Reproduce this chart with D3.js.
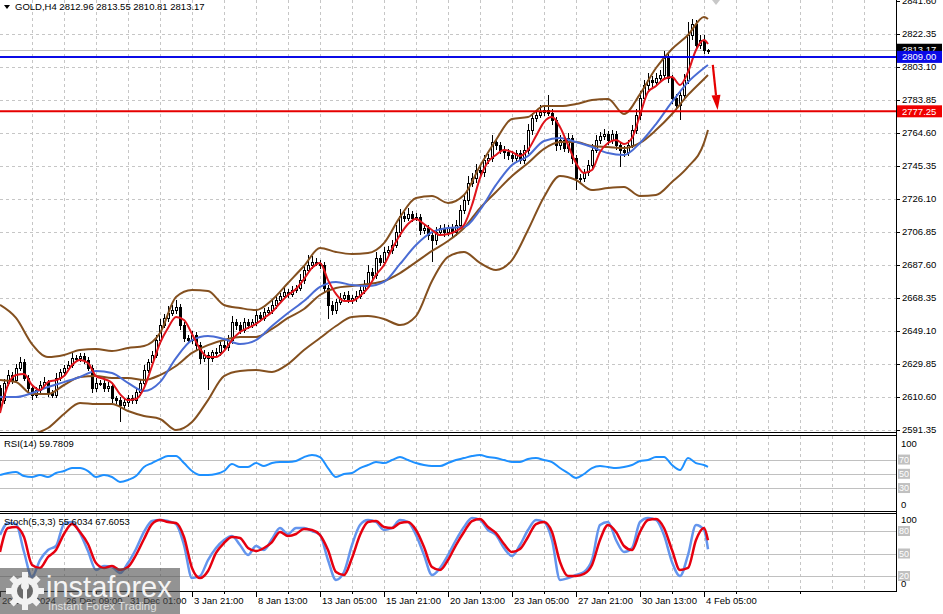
<!DOCTYPE html>
<html><head><meta charset="utf-8">
<script src="https://cdn.jsdelivr.net/npm/d3@7"></script>
<style>
body{margin:0;background:#fff;overflow:hidden}
svg{display:block}
text{font-family:"Liberation Sans",Arial,sans-serif}
</style>
</head><body>
<svg id="c" width="943" height="614"></svg>
<script>
// ---------------- DATA ----------------
const symbol = "GOLD,H4";
const opens = [
2616.0,2608.8,2618.8,2623.4,2620.5,2627.5,2631.0,2621.7,2615.8,2611.8,
2614.7,2617.6,2619.3,2612.9,2611.8,2621.7,2625.2,2627.5,2629.3,2633.3,
2633.3,2634.5,2632.2,2627.5,2615.8,2618.8,2618.8,2615.8,2617.0,2610.0,
2608.8,2605.9,2607.7,2610.0,2608.8,2613.5,2618.8,2626.3,2631.0,2635.1,
2643.8,2652.6,2656.7,2659.6,2661.3,2663.1,2652.6,2645.0,2643.8,2646.8,
2640.9,2633.3,2635.1,2633.3,2636.8,2636.8,2640.9,2639.8,2643.8,2654.3,
2652.6,2649.7,2654.3,2652.6,2654.3,2658.4,2656.7,2660.2,2661.3,2664.3,
2667.2,2669.5,2671.8,2670.7,2673.0,2674.2,2678.8,2684.7,2687.6,2689.3,
2688.8,2687.6,2674.2,2664.3,2661.3,2666.0,2668.3,2670.1,2667.2,2668.3,
2669.5,2673.0,2675.9,2683.5,2681.8,2691.7,2689.3,2695.2,2696.3,2699.3,
2706.8,2716.2,2715.0,2717.3,2715.0,2715.6,2708.0,2709.2,2705.1,2702.2,
2706.8,2709.2,2706.8,2709.2,2706.8,2710.9,2719.7,2725.5,2735.4,2738.3,
2743.0,2741.8,2748.8,2750.0,2759.3,2757.6,2754.7,2753.5,2751.8,2750.0,
2752.9,2748.8,2754.7,2766.3,2773.3,2775.1,2776.8,2778.0,2776.3,2772.2,
2757.6,2760.5,2755.8,2761.7,2750.0,2738.3,2738.3,2741.8,2745.9,2754.7,
2760.5,2762.8,2764.0,2760.5,2764.0,2757.6,2754.7,2753.5,2757.6,2766.3,
2775.1,2785.0,2792.6,2795.5,2794.3,2796.7,2798.4,2808.3,2796.7,2785.0,
2780.9,2786.8,2795.5,2821.8,2828.2,2815.9,2818.8,2812.96];
const closes = [
2608.8,2618.8,2623.4,2620.5,2627.5,2631.0,2621.7,2615.8,2611.8,2614.7,
2617.6,2619.3,2612.9,2611.8,2621.7,2625.2,2627.5,2629.3,2633.3,2633.3,
2634.5,2632.2,2627.5,2615.8,2618.8,2618.8,2615.8,2617.0,2610.0,2608.8,
2605.9,2607.7,2610.0,2608.8,2613.5,2618.8,2626.3,2631.0,2635.1,2643.8,
2652.6,2656.7,2659.6,2661.3,2663.1,2652.6,2645.0,2643.8,2646.8,2640.9,
2633.3,2635.1,2633.3,2636.8,2636.8,2640.9,2639.8,2643.8,2654.3,2652.6,
2649.7,2654.3,2652.6,2654.3,2658.4,2656.7,2660.2,2661.3,2664.3,2667.2,
2669.5,2671.8,2670.7,2673.0,2674.2,2678.8,2684.7,2687.6,2689.3,2688.8,
2687.6,2674.2,2664.3,2661.3,2666.0,2668.3,2670.1,2667.2,2668.3,2669.5,
2673.0,2675.9,2683.5,2681.8,2691.7,2689.3,2695.2,2696.3,2699.3,2706.8,
2716.2,2715.0,2717.3,2715.0,2715.6,2708.0,2709.2,2705.1,2702.2,2706.8,
2709.2,2706.8,2709.2,2706.8,2710.9,2719.7,2725.5,2735.4,2738.3,2743.0,
2741.8,2748.8,2750.0,2759.3,2757.6,2754.7,2753.5,2751.8,2750.0,2752.9,
2748.8,2754.7,2766.3,2773.3,2775.1,2776.8,2778.0,2776.3,2772.2,2757.6,
2760.5,2755.8,2761.7,2750.0,2738.3,2738.3,2741.8,2745.9,2754.7,2760.5,
2762.8,2764.0,2760.5,2764.0,2757.6,2754.7,2753.5,2757.6,2766.3,2775.1,
2785.0,2792.6,2795.5,2794.3,2796.7,2798.4,2808.3,2796.7,2785.0,2780.9,
2786.8,2795.5,2821.8,2828.2,2815.9,2818.8,2812.96,2813.17];
const upperWicks = [
1.5,2.5,3.0,2.0,2.5,3.0,1.5,2.0,1.5,2.0,
2.5,3.0,1.5,2.0,3.0,2.0,1.5,2.5,3.5,2.0,
2.0,1.5,1.5,2.0,3.0,2.0,1.5,2.5,1.5,1.0,
2.0,1.5,2.0,1.5,2.5,2.0,3.0,2.0,2.5,3.0,
3.5,2.5,4.0,3.0,4.0,2.0,1.5,2.0,2.5,1.5,
2.0,3.0,2.0,1.5,2.5,2.0,2.5,3.0,3.5,2.0,
1.5,2.5,2.0,2.0,3.0,2.0,2.5,2.0,3.0,2.5,
2.0,3.0,2.0,2.5,2.0,3.5,3.0,6.0,3.5,2.5,
2.0,1.5,2.0,2.5,2.0,3.0,2.0,2.5,2.0,3.0,
2.5,3.0,4.0,2.5,3.5,2.0,3.0,2.5,3.0,4.0,
4.0,2.5,3.5,2.0,2.5,2.0,2.5,2.0,1.5,3.0,
2.0,2.5,2.0,2.5,3.0,3.0,3.5,4.0,3.0,3.5,
2.5,3.0,2.5,4.0,2.0,2.0,2.5,2.0,2.5,2.0,
2.0,3.0,3.5,3.0,2.5,4.0,3.0,9.0,2.5,2.0,
3.0,2.5,3.0,2.0,1.5,2.5,2.0,3.0,3.5,3.0,
2.5,3.0,2.0,2.5,2.0,1.5,2.5,3.0,3.0,3.5,
4.0,3.0,4.0,2.5,3.0,3.0,4.0,2.5,2.0,2.5,
3.0,3.5,7.5,3.0,2.5,3.0,3.0,0.38];
const lowerWicks = [
7.0,2.0,1.5,2.5,2.0,1.5,2.0,2.5,3.0,2.0,
1.5,2.0,2.5,2.0,1.5,2.0,2.5,1.5,2.0,2.5,
2.0,2.5,2.0,3.0,2.5,1.5,2.0,2.0,3.0,2.5,
10.0,2.5,3.0,2.0,2.0,2.5,2.0,1.5,2.5,2.0,
2.5,2.0,2.5,2.0,2.5,3.0,2.5,2.0,2.5,3.0,
3.5,2.5,18.5,2.0,2.5,2.0,2.0,2.5,2.0,3.0,
2.5,2.0,2.5,2.0,2.0,2.5,2.0,1.5,2.0,2.5,
2.0,2.0,2.5,2.0,1.5,2.0,2.5,2.0,2.5,2.0,
2.5,3.0,8.0,3.0,2.5,2.0,2.5,2.0,2.5,2.0,
2.0,2.5,2.0,3.0,2.5,2.0,2.5,2.0,2.5,2.0,
3.0,2.5,2.0,2.5,2.0,3.0,2.5,3.0,13.0,3.0,
2.5,3.0,2.5,3.0,2.5,2.0,2.5,3.0,2.5,3.0,
2.5,3.0,2.5,2.5,3.0,2.5,4.0,3.0,2.5,3.0,
2.5,2.0,2.5,3.0,2.5,2.0,2.5,2.0,3.0,3.5,
3.0,2.5,3.0,3.5,7.0,3.0,2.5,2.0,2.5,2.0,
2.5,2.0,3.0,2.5,3.0,10.0,3.0,2.5,2.0,2.5,
3.0,2.5,3.0,3.5,2.5,3.0,2.5,3.0,3.5,3.0,
9.0,3.0,2.5,3.0,3.0,2.5,2.5,2.15];

// Bollinger bands and moving average, one value every 4 bars (+ last bar)
const bbUpper = [2664.3,2656.7,2641.5,2633.9,2635.1,2638.0,2638.6,2637.4,2639.2,2640.3,
2647.9,2668.9,2673.0,2672.4,2664.3,2662.5,2661.3,2667.2,2677.1,2687.0,
2697.5,2695.2,2694.0,2694.6,2700.4,2715.6,2726.7,2727.8,2723.8,2728.4,
2745.3,2760.5,2772.8,2773.9,2780.3,2780.3,2781.5,2783.8,2784.4,2775.7,
2787.3,2802.5,2813.6,2821.8,2832.3,2831.1];
const bbMiddle = [2620.5,2619.3,2612.3,2612.3,2617.6,2622.3,2622.8,2621.7,2621.7,2620.5,
2623.4,2628.7,2636.3,2640.9,2643.8,2645.6,2645.6,2650.3,2656.7,2661.9,
2670.1,2674.2,2675.3,2676.5,2678.3,2682.9,2689.3,2695.8,2701.6,2709.2,
2720.8,2730.2,2739.5,2747.1,2755.3,2759.3,2759.3,2757.0,2756.4,2755.8,
2758.8,2766.3,2775.7,2786.8,2796.1,2798.4];
const bbLower = [2579.7,2583.2,2588.4,2592.5,2600.7,2607.1,2606.5,2606.5,2602.4,2599.5,
2597.8,2591.3,2596.0,2608.8,2622.8,2625.8,2626.3,2625.2,2629.8,2638.0,
2645.0,2652.0,2657.3,2657.8,2656.1,2652.6,2657.8,2678.3,2692.3,2695.2,
2688.8,2684.7,2690.5,2708.0,2727.3,2739.5,2737.2,2731.3,2732.5,2733.1,
2727.8,2728.4,2736.0,2744.8,2758.8,2766.3];
const slowMA = [2610.6,2610.6,2612.9,2616.4,2619.3,2622.3,2625.8,2624.6,2618.8,2614.1,
2619.3,2633.3,2643.8,2646.2,2644.4,2641.5,2643.8,2652.0,2659.6,2666.6,
2674.8,2677.7,2675.9,2675.3,2677.7,2688.2,2699.3,2706.8,2709.2,2709.8,
2719.7,2734.3,2745.9,2751.2,2759.9,2761.7,2759.3,2756.4,2752.9,2751.8,
2758.8,2769.8,2782.7,2794.3,2802.5,2804.3];
// fast MA, RSI and Stochastic: one value every 2 bars (+ last bar)
const fastMA = [2601.3,2617.6,2623.4,2624.0,2617.6,2614.7,2619.3,2620.5,2622.8,2629.3,
2632.2,2630.4,2622.8,2621.1,2618.8,2612.3,2608.8,2609.4,2615.8,2628.7,
2642.1,2650.9,2657.3,2655.5,2647.4,2638.6,2633.9,2633.9,2637.4,2643.8,
2648.5,2650.9,2653.2,2656.7,2660.2,2665.4,2670.1,2673.6,2679.4,2685.9,
2688.8,2678.8,2670.7,2666.6,2666.6,2669.5,2674.2,2681.8,2687.6,2696.9,
2705.1,2711.5,2714.4,2711.5,2708.0,2705.1,2705.7,2707.4,2710.9,2722.6,
2738.3,2747.7,2751.8,2754.7,2753.5,2751.2,2754.7,2762.8,2771.0,2773.9,
2768.1,2757.6,2747.1,2741.3,2743.0,2753.5,2758.8,2760.5,2758.2,2761.7,
2775.1,2788.5,2792.0,2796.1,2797.3,2792.6,2800.2,2813.0,2818.8,2816.5];
const rsi = [48.3,51.1,52.5,46.9,45.5,48.3,45.5,51.1,53.9,58.1,
58.1,53.9,45.5,48.3,45.5,38.5,41.3,46.9,59.5,65.1,
70.7,74.9,74.9,65.1,53.9,48.3,48.3,49.7,53.9,63.7,
59.5,59.5,65.1,60.9,65.1,66.5,66.5,67.9,73.5,76.4,
73.5,58.1,45.5,49.7,51.1,58.1,62.3,66.5,65.1,69.3,
73.5,69.3,65.1,62.3,60.9,60.9,65.1,69.3,72.1,74.9,
76.4,73.5,72.1,69.3,66.5,66.5,70.7,72.1,69.3,66.5,
58.1,51.1,44.1,49.7,58.1,60.9,59.5,58.1,59.5,62.3,
67.9,69.3,73.5,73.5,62.3,55.3,72.1,65.1,62.3,59.7809];
const stochMain = [74.7,90.7,89.3,52,18.7,41.3,54.7,60,89.3,92,
77.3,53.3,28,33.3,32,24,37.3,56,78.7,93.3,
94.7,93.3,89.3,61.3,17.3,20,41.3,57.3,68,73.3,
61.3,48,60,54.7,69.3,84,76,84,84,80,
74.7,41.3,14.7,25.3,61.3,88,94.7,92,81.3,84,
94.7,92,74.7,48,21.3,30.7,48,68,85.3,97.3,
94.7,81.3,74.7,57.3,46.7,61.3,81.3,94.7,92,68,
14.7,17.3,21.3,25.3,41.3,88,92,68,52,57.3,
92,97.3,94.7,74.7,38.7,20,48,88,81.3,55.6034];
const stochSignal = [52,84,85.3,72,34.7,30.7,45.3,54.7,76,89.3,
78.7,62.7,37.3,30.7,33.3,28,32,48,69.3,89.3,
94.7,92,90.7,72,30.7,17.3,26.7,50.7,64,72,
70.7,57.3,53.3,57.3,65.3,78.7,73.3,76,82.7,81.3,
74.7,54.7,25.3,21.3,44,74.7,92,93.3,85.3,84,
90.7,92,81.3,58.7,32,28,41.3,61.3,78.7,93.3,
96,85.3,77.3,62.7,52,56,72,89.3,92,78.7,
38.7,20,20,22.7,34.7,68,88,78.7,60,54.7,
78.7,94.7,96,84,54.7,28,30.7,68,84,67.6053];

const priceTicks = [2841.60,2822.35,2803.10,2783.85,2764.60,2745.35,2726.10,2706.85,2687.60,2668.35,2649.10,2629.85,2610.60,2591.35];
const timeLabels = ["20 Dec 2024","26 Dec 09:00","31 Dec 01:00","3 Jan 21:00","8 Jan 13:00","13 Jan 05:00","15 Jan 21:00","20 Jan 13:00","23 Jan 05:00","27 Jan 21:00","30 Jan 13:00","4 Feb 05:00"];
const timeLabelBars = [0,16,32,48,64,80,96,112,128,144,160,176];
const levelBlue = 2809.00;
const levelRed = 2777.25;
const rsiLevels = [70,50,30];
const stochLevels = [80,50,20];
const arrowFrom = {bar:178.2, price:2804.3};
const arrowTo = {bar:179.4, price:2778.0};

// ---------------- DRAW ----------------
const svg = d3.select("#c");
const nBars = closes.length;
const AX = 896;
const x = d3.scaleLinear().domain([0, nBars-1]).range([0, 708]);
const y = d3.scaleLinear().domain([2591.35, 2841.60]).range([430, 1]);
const yR = d3.scaleLinear().domain([0,100]).range([509.4, 438.2]);
const yS = d3.scaleLinear().domain([0,100]).range([591, 516]);

const bars = d3.range(nBars).map(i => {
  const o = opens[i], c = closes[i];
  return {i, o, c, h: Math.max(o,c)+upperWicks[i], l: Math.min(o,c)-lowerWicks[i]};
});
const idx4 = d3.range(0, nBars-1, 4).concat([nBars-1]);
const idx2 = d3.range(0, nBars-1, 2).concat([nBars-1]);

const defs = svg.append("defs");
function clip(id, y0, y1){
  defs.append("clipPath").attr("id", id).append("rect").attr("x",0).attr("y",y0).attr("width",AX).attr("height",y1-y0);
}
clip("cm", 0, 432); clip("cr", 436, 511); clip("cs", 514, 591);

const grid = svg.append("g").attr("stroke","#c6c6c6").attr("stroke-dasharray","3,3").attr("shape-rendering","crispEdges");
const vIdx = d3.range(8, nBars+40, 8).filter(d => x(d) < AX);
[[0,432],[436,511],[514,591]].forEach(([a,b])=>{
  grid.selectAll(null).data(vIdx).enter().append("line")
    .attr("x1", d=>Math.round(x(d))+0.5).attr("x2", d=>Math.round(x(d))+0.5)
    .attr("y1", a).attr("y2", b);
});
grid.selectAll(null).data(priceTicks.slice(1)).enter().append("line")
  .attr("x1",0).attr("x2",AX).attr("y1",d=>Math.round(y(d))+0.5).attr("y2",d=>Math.round(y(d))+0.5);

// level lines
const lv = svg.append("g").attr("stroke","#c0c0c0").attr("shape-rendering","crispEdges");
lv.selectAll(null).data(rsiLevels).enter().append("line").attr("x1",0).attr("x2",AX)
  .attr("y1",d=>Math.round(yR(d))+0.5).attr("y2",d=>Math.round(yR(d))+0.5);
lv.selectAll(null).data(stochLevels).enter().append("line").attr("x1",0).attr("x2",AX)
  .attr("y1",d=>Math.round(yS(d))+0.5).attr("y2",d=>Math.round(yS(d))+0.5);

// bid line
svg.append("line").attr("x1",0).attr("x2",AX).attr("y1",Math.round(y(closes[nBars-1]))+0.5).attr("y2",Math.round(y(closes[nBars-1]))+0.5)
  .attr("stroke","#c0c0c0").attr("shape-rendering","crispEdges");

// candles
const cg = svg.append("g").attr("clip-path","url(#cm)").attr("shape-rendering","crispEdges");
cg.selectAll(".w").data(bars).enter().append("line")
  .attr("x1", d=>Math.round(x(d.i))+0.5).attr("x2", d=>Math.round(x(d.i))+0.5)
  .attr("y1", d=>y(d.h)).attr("y2", d=>y(d.l)).attr("stroke","#000");
cg.selectAll(".b").data(bars).enter().append("rect")
  .attr("x", d=>Math.round(x(d.i))-0.5).attr("width",2)
  .attr("y", d=>Math.round(y(Math.max(d.o,d.c)))+0.5)
  .attr("height", d=>Math.max(1, Math.round(y(Math.min(d.o,d.c)) - y(Math.max(d.o,d.c)))))
  .attr("fill", d=> d.c>=d.o ? "#fff" : "#000").attr("stroke","#000");

// indicator lines on main chart
const lg = svg.append("g").attr("clip-path","url(#cm)").attr("fill","none").attr("stroke-linejoin","round");
function drawLine(g, vals, idx, ys, color, w){
  g.append("path").datum(vals.map((v,k)=>[idx[k], v]))
   .attr("d", d3.line().x(d=>x(d[0])).y(d=>ys(d[1])).curve(d3.curveMonotoneX))
   .attr("stroke", color).attr("stroke-width", w).attr("fill","none");
}
const brown = "#84501f";
drawLine(lg, bbUpper, idx4, y, brown, 2);
drawLine(lg, bbLower, idx4, y, brown, 2);
drawLine(lg, bbMiddle, idx4, y, brown, 2);
drawLine(lg, slowMA, idx4, y, "#4a6cd4", 2);
drawLine(lg, fastMA, idx2, y, "#e0141c", 2);

// horizontal levels
svg.append("line").attr("x1",0).attr("x2",AX).attr("y1",y(levelRed)).attr("y2",y(levelRed)).attr("stroke","#e60000").attr("stroke-width",2);
svg.append("line").attr("x1",0).attr("x2",AX).attr("y1",y(levelBlue)).attr("y2",y(levelBlue)).attr("stroke","#0a0ae6").attr("stroke-width",2);

// arrow
const ax1=x(arrowFrom.bar), ay1=y(arrowFrom.price), ax2=x(arrowTo.bar), ay2=y(arrowTo.price);
const ang = Math.atan2(ay2-ay1, ax2-ax1);
const hl = 15, hw = 4.5;
const bx = ax2 - hl*Math.cos(ang), by = ay2 - hl*Math.sin(ang);
svg.append("line").attr("x1",ax1).attr("y1",ay1).attr("x2",bx).attr("y2",by).attr("stroke","#e60000").attr("stroke-width",2.2);
svg.append("polygon").attr("points",[
  [ax2,ay2],[bx - hw*Math.sin(ang), by + hw*Math.cos(ang)],[bx + hw*Math.sin(ang), by - hw*Math.cos(ang)]
].map(p=>p.join(",")).join(" ")).attr("fill","#e60000");

// chart-shift marker
svg.append("polygon").attr("points",[[x(nBars-1)+4,0],[x(nBars-1)+12,0],[x(nBars-1)+8,5]].map(p=>p.join(",")).join(" ")).attr("fill","#c8c8c8");

// RSI
const rg = svg.append("g").attr("clip-path","url(#cr)");
drawLine(rg, rsi, idx2, yR, "#1e90ff", 2);
// Stochastic
const sg = svg.append("g").attr("clip-path","url(#cs)");
drawLine(sg, stochMain, idx2, yS, "#6495ed", 2.5);
drawLine(sg, stochSignal, idx2, yS, "#e6000f", 2.5);

// panel borders
const bd = svg.append("g").attr("stroke","#000").attr("shape-rendering","crispEdges");
[432.5,435.5,511.5,513.5,591.5].forEach(v=>bd.append("line").attr("x1",0).attr("x2",AX+0.5).attr("y1",v).attr("y2",v));
bd.append("line").attr("x1",AX+0.5).attr("x2",AX+0.5).attr("y1",0).attr("y2",592);

// price axis
const pa = svg.append("g");
pa.selectAll(null).data(priceTicks).enter().append("line")
  .attr("x1",AX).attr("x2",AX+4).attr("y1",d=>Math.round(y(d))+0.5).attr("y2",d=>Math.round(y(d))+0.5)
  .attr("stroke","#000").attr("shape-rendering","crispEdges");
pa.selectAll(null).data(priceTicks).enter().append("text")
  .attr("x",902).attr("y",d=>y(d)).attr("dy","0.35em").attr("font-size","9.5px").attr("fill","#000")
  .text(d=>d.toFixed(2));

function priceBox(price, bg, fg){
  const yy = y(price);
  pa.append("rect").attr("x",AX+1).attr("y",yy-6).attr("width",943-AX-2).attr("height",12).attr("fill",bg);
  pa.append("text").attr("x",902).attr("y",yy).attr("dy","0.35em").attr("font-size","9.5px").attr("fill",fg).text(price.toFixed(2));
}
priceBox(closes[nBars-1], "#000", "#fff");
priceBox(levelBlue, "#0a0ae6", "#fff");
priceBox(levelRed, "#f00000", "#fff");

// RSI / Stoch scale labels
function levelBox(yy, label){
  pa.append("rect").attr("x",AX+2).attr("y",yy-5).attr("width",12).attr("height",10).attr("fill","#c0c0c0");
  pa.append("text").attr("x",AX+3).attr("y",yy).attr("dy","0.35em").attr("font-size","9px").attr("fill","#fff").text(label);
}
function plain(yy,label){
  pa.append("text").attr("x",AX+5).attr("y",yy).attr("dy","0.35em").attr("font-size","9.5px").attr("fill","#000").text(label);
}
plain(yR(100)+5,"100"); rsiLevels.forEach(v=>levelBox(yR(v), String(v))); plain(yR(0)-5,"0");
plain(yS(100)+4,"100"); stochLevels.forEach(v=>levelBox(yS(v), String(v))); plain(yS(0)-7,"0");

// time axis
const ta = svg.append("g");
ta.selectAll(null).data(timeLabelBars).enter().append("line")
  .attr("x1",d=>Math.round(x(d))+0.5).attr("x2",d=>Math.round(x(d))+0.5).attr("y1",592).attr("y2",597)
  .attr("stroke","#000").attr("shape-rendering","crispEdges");
ta.selectAll(null).data(d3.range(8, nBars+30, 16)).enter().append("line")
  .attr("x1",d=>Math.round(x(d))+0.5).attr("x2",d=>Math.round(x(d))+0.5).attr("y1",592).attr("y2",594)
  .attr("stroke","#000").attr("shape-rendering","crispEdges");
ta.selectAll(null).data(timeLabelBars).enter().append("text")
  .attr("x",d=>x(d)+2).attr("y",601).attr("dy","0.35em").attr("font-size","9.5px").attr("fill","#000")
  .text((d,k)=>timeLabels[k]);

// headers
const last = bars[nBars-1];
const hdr = svg.append("g");
hdr.append("polygon").attr("points","4,5 10,5 7,9").attr("fill","#000");
hdr.append("text").attr("x",15).attr("y",7).attr("dy","0.35em").attr("font-size","9.5px").attr("fill","#000")
  .text(symbol+"  "+[last.o,last.h,last.l,last.c].map(v=>v.toFixed(2)).join(" "));
hdr.append("text").attr("x",4).attr("y",444).attr("dy","0.35em").attr("font-size","9.5px").attr("fill","#000")
  .text("RSI(14) "+rsi[rsi.length-1].toFixed(4));
hdr.append("text").attr("x",4).attr("y",522).attr("dy","0.35em").attr("font-size","9.5px").attr("fill","#000")
  .text("Stoch(5,3,3) "+stochMain[stochMain.length-1].toFixed(4)+" "+stochSignal[stochSignal.length-1].toFixed(4));

// watermark
const wm = svg.append("g");
wm.append("rect").attr("x",0).attr("y",568).attr("width",180).attr("height",46).attr("fill","rgba(80,80,80,0.62)");
const gx=25, gy=591;
const gear = wm.append("g").attr("fill","#f2f2f2");
d3.range(8).forEach(k=>{
  gear.append("rect").attr("x",gx-3).attr("y",gy-19).attr("width",6).attr("height",7)
    .attr("transform",`rotate(${k*45},${gx},${gy})`);
});
gear.append("circle").attr("cx",gx).attr("cy",gy).attr("r",14);
wm.append("circle").attr("cx",gx).attr("cy",gy).attr("r",8).attr("fill","#6a6a6a");
wm.append("rect").attr("x",gx-2).attr("y",gy-6).attr("width",4).attr("height",20).attr("fill","#f2f2f2");
wm.append("circle").attr("cx",gx).attr("cy",gy-5).attr("r",4).attr("fill","#f2f2f2");
wm.append("text").attr("x",46).attr("y",597).attr("font-size","29px").attr("fill","#f4f4f4")
  .attr("font-family","'Open Sans',Lato,sans-serif").text("instaforex");
wm.append("text").attr("x",48).attr("y",610).attr("font-size","11.5px").attr("fill","#e0e0e0")
  .attr("font-family","'Open Sans',Lato,sans-serif").text("Instant Forex Trading");
</script>
</body></html>
